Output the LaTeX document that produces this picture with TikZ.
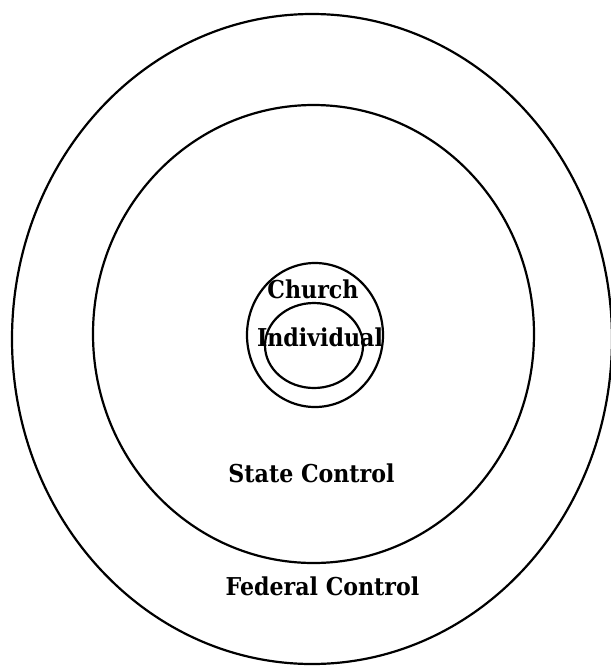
\documentclass[tikz,border=0pt]{standalone}
\usepackage{fontspec}
\setmainfont{DejaVu Serif Condensed}
\usetikzlibrary{shapes.geometric}

\begin{document}
\begin{tikzpicture}[
    x=0.5pt, y=-0.5pt,
    ring/.style={
        ellipse,
        draw=black,
        line width=1.1pt,
        inner sep=0pt
    },
    lbl/.style={font=\bfseries\fontsize{12.3}{14}\selectfont, inner sep=0pt, anchor=base}
]
\useasboundingbox (0,0) rectangle (611,666);

% Rings, outside in
\node[ring, minimum width=300pt, minimum height=325pt] (federal)    at (312,339)   {};
\node[ring, minimum width=220.5pt, minimum height=229pt] (state)    at (313.5,334) {};
\node[ring, minimum width=68pt, minimum height=72pt]   (church)     at (315,335)   {};
\node[ring, minimum width=49pt, minimum height=42.5pt] (individual) at (314,345.5) {};

% Labels
\node[lbl] (church-lbl)     at (313,298)   {Church};
\node[lbl] (individual-lbl) at (320,346)   {Individual};
\node[lbl] (state-lbl)      at (311.5,482) {State Control};
\node[lbl] (federal-lbl)    at (322.5,595) {Federal Control};

\end{tikzpicture}
\end{document}
